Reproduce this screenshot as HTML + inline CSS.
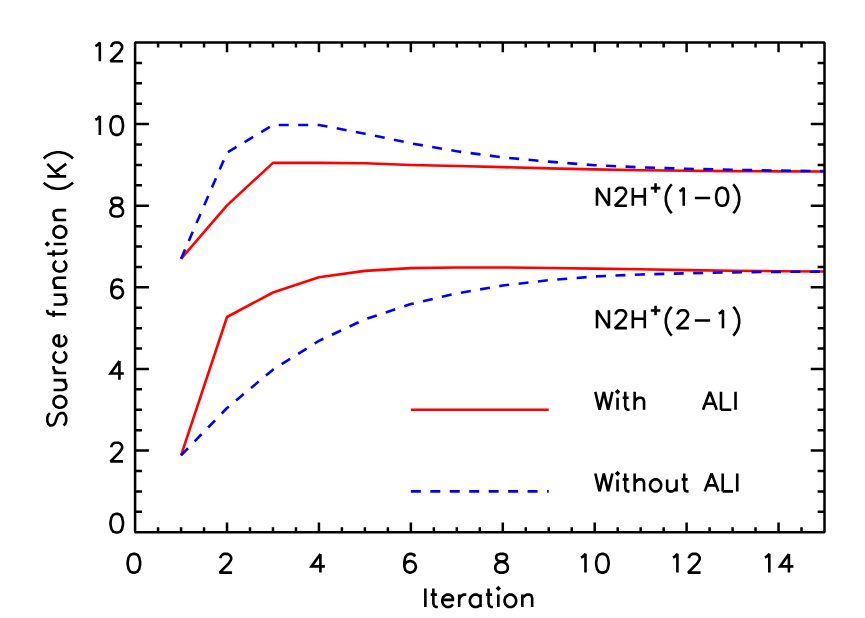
<!DOCTYPE html>
<html><head><meta charset="utf-8"><title>Source function vs Iteration</title>
<style>html,body{margin:0;padding:0;background:#fff;font-family:"Liberation Sans",sans-serif;}svg{display:block}</style>
</head><body><svg width="865" height="618" viewBox="0 0 865 618"><rect x="0" y="0" width="865" height="618" fill="#fff"/><g fill="none" stroke-linejoin="round" stroke-width="2.60"><polyline stroke="#ff0000" points="181.06,258.78 227.02,205.33 272.98,162.88 318.94,162.88 364.90,163.29 410.86,164.93 456.82,165.95 502.78,167.17 548.74,168.35 594.70,169.41 640.66,170.31 686.62,170.72 732.58,171.13 778.54,171.33 824.50,171.54"/><polyline stroke="#ff0000" points="181.06,455.40 227.02,317.02 272.98,292.49 318.94,277.27 364.90,270.90 410.86,268.13 456.82,267.56 502.78,267.44 548.74,267.97 594.70,268.58 640.66,269.27 686.62,270.13 732.58,270.74 778.54,271.19 824.50,271.56"/><polyline stroke="#ff0000" points="410.86,409.78 548.74,409.78"/><polyline stroke="#0000ff" stroke-dasharray="10 9.45" points="181.06,258.78 227.02,152.68 272.98,124.93 318.94,124.93 364.90,133.71 410.86,143.30 456.82,151.25 502.78,157.38 548.74,161.66 594.70,165.21 640.66,167.37 686.62,168.80 732.58,169.82 778.54,170.64 824.50,171.21"/><polyline stroke="#0000ff" stroke-dasharray="10 9.45" points="181.06,455.40 227.02,408.02 272.98,369.66 318.94,340.81 364.90,319.38 410.86,304.08 456.82,293.39 502.78,285.51 548.74,280.21 594.70,276.45 640.66,274.50 686.62,273.27 732.58,272.33 778.54,271.88 824.50,271.60"/><polyline stroke="#0000ff" stroke-dasharray="10 9.45" points="410.86,491.39 548.74,491.39"/></g><path d="M135.10 42.50 H824.50 V532.20 H135.10 ZM158.08 532.20 v-4.90M158.08 42.50 v4.90M181.06 532.20 v-4.90M181.06 42.50 v4.90M204.04 532.20 v-4.90M204.04 42.50 v4.90M227.02 532.20 v-9.79M227.02 42.50 v9.79M250.00 532.20 v-4.90M250.00 42.50 v4.90M272.98 532.20 v-4.90M272.98 42.50 v4.90M295.96 532.20 v-4.90M295.96 42.50 v4.90M318.94 532.20 v-9.79M318.94 42.50 v9.79M341.92 532.20 v-4.90M341.92 42.50 v4.90M364.90 532.20 v-4.90M364.90 42.50 v4.90M387.88 532.20 v-4.90M387.88 42.50 v4.90M410.86 532.20 v-9.79M410.86 42.50 v9.79M433.84 532.20 v-4.90M433.84 42.50 v4.90M456.82 532.20 v-4.90M456.82 42.50 v4.90M479.80 532.20 v-4.90M479.80 42.50 v4.90M502.78 532.20 v-9.79M502.78 42.50 v9.79M525.76 532.20 v-4.90M525.76 42.50 v4.90M548.74 532.20 v-4.90M548.74 42.50 v4.90M571.72 532.20 v-4.90M571.72 42.50 v4.90M594.70 532.20 v-9.79M594.70 42.50 v9.79M617.68 532.20 v-4.90M617.68 42.50 v4.90M640.66 532.20 v-4.90M640.66 42.50 v4.90M663.64 532.20 v-4.90M663.64 42.50 v4.90M686.62 532.20 v-9.79M686.62 42.50 v9.79M709.60 532.20 v-4.90M709.60 42.50 v4.90M732.58 532.20 v-4.90M732.58 42.50 v4.90M755.56 532.20 v-4.90M755.56 42.50 v4.90M778.54 532.20 v-9.79M778.54 42.50 v9.79M801.52 532.20 v-4.90M801.52 42.50 v4.90M135.10 511.80 h6.89M824.50 511.80 h-6.89M135.10 491.39 h6.89M824.50 491.39 h-6.89M135.10 470.99 h6.89M824.50 470.99 h-6.89M135.10 450.58 h13.79M824.50 450.58 h-13.79M135.10 430.18 h6.89M824.50 430.18 h-6.89M135.10 409.78 h6.89M824.50 409.78 h-6.89M135.10 389.37 h6.89M824.50 389.37 h-6.89M135.10 368.97 h13.79M824.50 368.97 h-13.79M135.10 348.56 h6.89M824.50 348.56 h-6.89M135.10 328.16 h6.89M824.50 328.16 h-6.89M135.10 307.75 h6.89M824.50 307.75 h-6.89M135.10 287.35 h13.79M824.50 287.35 h-13.79M135.10 266.95 h6.89M824.50 266.95 h-6.89M135.10 246.54 h6.89M824.50 246.54 h-6.89M135.10 226.14 h6.89M824.50 226.14 h-6.89M135.10 205.73 h13.79M824.50 205.73 h-13.79M135.10 185.33 h6.89M824.50 185.33 h-6.89M135.10 164.93 h6.89M824.50 164.93 h-6.89M135.10 144.52 h6.89M824.50 144.52 h-6.89M135.10 124.12 h13.79M824.50 124.12 h-13.79M135.10 103.71 h6.89M824.50 103.71 h-6.89M135.10 83.31 h6.89M824.50 83.31 h-6.89M135.10 62.90 h6.89M824.50 62.90 h-6.89" fill="none" stroke="#000" stroke-width="2.50" stroke-linejoin="bevel"/><path transform="translate(125.00 572.60)" d="M8.01 -18.69 L5.34 -17.80 L3.56 -15.13 L2.67 -10.68 L2.67 -8.01 L3.56 -3.56 L5.34 -0.89 L8.01 -0.00 L9.79 -0.00 L12.46 -0.89 L14.24 -3.56 L15.13 -8.01 L15.13 -10.68 L14.24 -15.13 L12.46 -17.80 L9.79 -18.69Z" fill="none" stroke="#000" stroke-width="2.60" stroke-linejoin="miter" stroke-miterlimit="2.5" stroke-linecap="butt"/><path transform="translate(216.92 572.60)" d="M3.56 -14.24 L3.56 -15.13 L4.45 -16.91 L5.34 -17.80 L7.12 -18.69 L10.68 -18.69 L12.46 -17.80 L13.35 -16.91 L14.24 -15.13 L14.24 -13.35 L13.35 -11.57 L11.57 -8.90 L2.67 -0.00 L15.13 -0.00" fill="none" stroke="#000" stroke-width="2.60" stroke-linejoin="miter" stroke-miterlimit="2.5" stroke-linecap="butt"/><path transform="translate(308.84 572.60)" d="M11.57 -18.69 L2.67 -6.23 L16.02 -6.23M11.57 -18.69 L11.57 -0.00" fill="none" stroke="#000" stroke-width="2.60" stroke-linejoin="miter" stroke-miterlimit="2.5" stroke-linecap="butt"/><path transform="translate(400.76 572.60)" d="M14.24 -16.02 L13.35 -17.80 L10.68 -18.69 L8.90 -18.69 L6.23 -17.80 L4.45 -15.13 L3.56 -10.68 L3.56 -6.23 L4.45 -2.67 L6.23 -0.89 L8.90 -0.00 L9.79 -0.00 L12.46 -0.89 L14.24 -2.67 L15.13 -5.34 L15.13 -6.23 L14.24 -8.90 L12.46 -10.68 L9.79 -11.57 L8.90 -11.57 L6.23 -10.68 L4.45 -8.90 L3.56 -6.23" fill="none" stroke="#000" stroke-width="2.60" stroke-linejoin="miter" stroke-miterlimit="2.5" stroke-linecap="butt"/><path transform="translate(492.68 572.60)" d="M7.12 -18.69 L4.45 -17.80 L3.56 -16.02 L3.56 -14.24 L4.45 -12.46 L6.23 -11.57 L9.79 -10.68 L12.46 -9.79 L14.24 -8.01 L15.13 -6.23 L15.13 -3.56 L14.24 -1.78 L13.35 -0.89 L10.68 -0.00 L7.12 -0.00 L4.45 -0.89 L3.56 -1.78 L2.67 -3.56 L2.67 -6.23 L3.56 -8.01 L5.34 -9.79 L8.01 -10.68 L11.57 -11.57 L13.35 -12.46 L14.24 -14.24 L14.24 -16.02 L13.35 -17.80 L10.68 -18.69Z" fill="none" stroke="#000" stroke-width="2.60" stroke-linejoin="miter" stroke-miterlimit="2.5" stroke-linecap="butt"/><path transform="translate(575.70 572.60)" d="M5.34 -15.13 L7.12 -16.02 L9.79 -18.69 L9.79 -0.00M25.81 -18.69 L23.14 -17.80 L21.36 -15.13 L20.47 -10.68 L20.47 -8.01 L21.36 -3.56 L23.14 -0.89 L25.81 -0.00 L27.59 -0.00 L30.26 -0.89 L32.04 -3.56 L32.93 -8.01 L32.93 -10.68 L32.04 -15.13 L30.26 -17.80 L27.59 -18.69Z" fill="none" stroke="#000" stroke-width="2.60" stroke-linejoin="miter" stroke-miterlimit="2.5" stroke-linecap="butt"/><path transform="translate(667.62 572.60)" d="M5.34 -15.13 L7.12 -16.02 L9.79 -18.69 L9.79 -0.00M21.36 -14.24 L21.36 -15.13 L22.25 -16.91 L23.14 -17.80 L24.92 -18.69 L28.48 -18.69 L30.26 -17.80 L31.15 -16.91 L32.04 -15.13 L32.04 -13.35 L31.15 -11.57 L29.37 -8.90 L20.47 -0.00 L32.93 -0.00" fill="none" stroke="#000" stroke-width="2.60" stroke-linejoin="miter" stroke-miterlimit="2.5" stroke-linecap="butt"/><path transform="translate(759.54 572.60)" d="M5.34 -15.13 L7.12 -16.02 L9.79 -18.69 L9.79 -0.00M29.37 -18.69 L20.47 -6.23 L33.82 -6.23M29.37 -18.69 L29.37 -0.00" fill="none" stroke="#000" stroke-width="2.60" stroke-linejoin="miter" stroke-miterlimit="2.5" stroke-linecap="butt"/><path transform="translate(107.85 532.55)" d="M8.01 -18.69 L5.34 -17.80 L3.56 -15.13 L2.67 -10.68 L2.67 -8.01 L3.56 -3.56 L5.34 -0.89 L8.01 -0.00 L9.79 -0.00 L12.46 -0.89 L14.24 -3.56 L15.13 -8.01 L15.13 -10.68 L14.24 -15.13 L12.46 -17.80 L9.79 -18.69Z" fill="none" stroke="#000" stroke-width="2.60" stroke-linejoin="miter" stroke-miterlimit="2.5" stroke-linecap="butt"/><path transform="translate(107.85 461.38)" d="M3.56 -14.24 L3.56 -15.13 L4.45 -16.91 L5.34 -17.80 L7.12 -18.69 L10.68 -18.69 L12.46 -17.80 L13.35 -16.91 L14.24 -15.13 L14.24 -13.35 L13.35 -11.57 L11.57 -8.90 L2.67 -0.00 L15.13 -0.00" fill="none" stroke="#000" stroke-width="2.60" stroke-linejoin="miter" stroke-miterlimit="2.5" stroke-linecap="butt"/><path transform="translate(107.85 379.76)" d="M11.57 -18.69 L2.67 -6.23 L16.02 -6.23M11.57 -18.69 L11.57 -0.00" fill="none" stroke="#000" stroke-width="2.60" stroke-linejoin="miter" stroke-miterlimit="2.5" stroke-linecap="butt"/><path transform="translate(107.85 298.15)" d="M14.24 -16.02 L13.35 -17.80 L10.68 -18.69 L8.90 -18.69 L6.23 -17.80 L4.45 -15.13 L3.56 -10.68 L3.56 -6.23 L4.45 -2.67 L6.23 -0.89 L8.90 -0.00 L9.79 -0.00 L12.46 -0.89 L14.24 -2.67 L15.13 -5.34 L15.13 -6.23 L14.24 -8.90 L12.46 -10.68 L9.79 -11.57 L8.90 -11.57 L6.23 -10.68 L4.45 -8.90 L3.56 -6.23" fill="none" stroke="#000" stroke-width="2.60" stroke-linejoin="miter" stroke-miterlimit="2.5" stroke-linecap="butt"/><path transform="translate(107.85 216.53)" d="M7.12 -18.69 L4.45 -17.80 L3.56 -16.02 L3.56 -14.24 L4.45 -12.46 L6.23 -11.57 L9.79 -10.68 L12.46 -9.79 L14.24 -8.01 L15.13 -6.23 L15.13 -3.56 L14.24 -1.78 L13.35 -0.89 L10.68 -0.00 L7.12 -0.00 L4.45 -0.89 L3.56 -1.78 L2.67 -3.56 L2.67 -6.23 L3.56 -8.01 L5.34 -9.79 L8.01 -10.68 L11.57 -11.57 L13.35 -12.46 L14.24 -14.24 L14.24 -16.02 L13.35 -17.80 L10.68 -18.69Z" fill="none" stroke="#000" stroke-width="2.60" stroke-linejoin="miter" stroke-miterlimit="2.5" stroke-linecap="butt"/><path transform="translate(90.05 134.91)" d="M5.34 -15.13 L7.12 -16.02 L9.79 -18.69 L9.79 -0.00M25.81 -18.69 L23.14 -17.80 L21.36 -15.13 L20.47 -10.68 L20.47 -8.01 L21.36 -3.56 L23.14 -0.89 L25.81 -0.00 L27.59 -0.00 L30.26 -0.89 L32.04 -3.56 L32.93 -8.01 L32.93 -10.68 L32.04 -15.13 L30.26 -17.80 L27.59 -18.69Z" fill="none" stroke="#000" stroke-width="2.60" stroke-linejoin="miter" stroke-miterlimit="2.5" stroke-linecap="butt"/><path transform="translate(90.05 61.24)" d="M5.34 -15.13 L7.12 -16.02 L9.79 -18.69 L9.79 -0.00M21.36 -14.24 L21.36 -15.13 L22.25 -16.91 L23.14 -17.80 L24.92 -18.69 L28.48 -18.69 L30.26 -17.80 L31.15 -16.91 L32.04 -15.13 L32.04 -13.35 L31.15 -11.57 L29.37 -8.90 L20.47 -0.00 L32.93 -0.00" fill="none" stroke="#000" stroke-width="2.60" stroke-linejoin="miter" stroke-miterlimit="2.5" stroke-linecap="butt"/><path transform="translate(421.80 607.00)" d="M3.56 -18.61 L3.56 -0.00M11.57 -18.61 L11.57 -3.54 L12.46 -0.89 L14.24 -0.00 L16.02 -0.00M8.90 -12.40 L15.13 -12.40M20.47 -7.09 L31.15 -7.09 L31.15 -8.86 L30.26 -10.63 L29.37 -11.52 L27.59 -12.40 L24.92 -12.40 L23.14 -11.52 L21.36 -9.75 L20.47 -7.09 L20.47 -5.32 L21.36 -2.66 L23.14 -0.89 L24.92 -0.00 L27.59 -0.00 L29.37 -0.89 L31.15 -2.66M37.38 -12.40 L37.38 -0.00M37.38 -7.09 L38.27 -9.75 L40.05 -11.52 L41.83 -12.40 L44.50 -12.40M58.74 -12.40 L58.74 -0.00M58.74 -9.75 L56.96 -11.52 L55.18 -12.40 L52.51 -12.40 L50.73 -11.52 L48.95 -9.75 L48.06 -7.09 L48.06 -5.32 L48.95 -2.66 L50.73 -0.89 L52.51 -0.00 L55.18 -0.00 L56.96 -0.89 L58.74 -2.66M66.75 -18.61 L66.75 -3.54 L67.64 -0.89 L69.42 -0.00 L71.20 -0.00M64.08 -12.40 L70.31 -12.40M75.65 -18.61 L76.54 -17.72 L77.43 -18.61 L76.54 -19.49ZM76.54 -12.40 L76.54 -0.00M87.22 -12.40 L85.44 -11.52 L83.66 -9.75 L82.77 -7.09 L82.77 -5.32 L83.66 -2.66 L85.44 -0.89 L87.22 -0.00 L89.89 -0.00 L91.67 -0.89 L93.45 -2.66 L94.34 -5.32 L94.34 -7.09 L93.45 -9.75 L91.67 -11.52 L89.89 -12.40ZM100.57 -12.40 L100.57 -0.00M100.57 -8.86 L103.24 -11.52 L105.02 -12.40 L107.69 -12.40 L109.47 -11.52 L110.36 -8.86 L110.36 -0.00" fill="none" stroke="#000" stroke-width="2.60" stroke-linejoin="miter" stroke-miterlimit="2.5" stroke-linecap="butt"/><path transform="translate(66.20 428.20) rotate(-90)" d="M15.13 -16.20 L13.35 -18.00 L10.68 -18.90 L7.12 -18.90 L4.45 -18.00 L2.67 -16.20 L2.67 -14.40 L3.56 -12.60 L4.45 -11.70 L6.23 -10.80 L11.57 -9.00 L13.35 -8.10 L14.24 -7.20 L15.13 -5.40 L15.13 -2.70 L13.35 -0.90 L10.68 -0.00 L7.12 -0.00 L4.45 -0.90 L2.67 -2.70M24.92 -12.60 L23.14 -11.70 L21.36 -9.90 L20.47 -7.20 L20.47 -5.40 L21.36 -2.70 L23.14 -0.90 L24.92 -0.00 L27.59 -0.00 L29.37 -0.90 L31.15 -2.70 L32.04 -5.40 L32.04 -7.20 L31.15 -9.90 L29.37 -11.70 L27.59 -12.60ZM38.27 -12.60 L38.27 -3.60 L39.16 -0.90 L40.94 -0.00 L43.61 -0.00 L45.39 -0.90 L48.06 -3.60M48.06 -12.60 L48.06 -0.00M55.18 -12.60 L55.18 -0.00M55.18 -7.20 L56.07 -9.90 L57.85 -11.70 L59.63 -12.60 L62.30 -12.60M76.54 -9.90 L74.76 -11.70 L72.98 -12.60 L70.31 -12.60 L68.53 -11.70 L66.75 -9.90 L65.86 -7.20 L65.86 -5.40 L66.75 -2.70 L68.53 -0.90 L70.31 -0.00 L72.98 -0.00 L74.76 -0.90 L76.54 -2.70M81.88 -7.20 L92.56 -7.20 L92.56 -9.00 L91.67 -10.80 L90.78 -11.70 L89.00 -12.60 L86.33 -12.60 L84.55 -11.70 L82.77 -9.90 L81.88 -7.20 L81.88 -5.40 L82.77 -2.70 L84.55 -0.90 L86.33 -0.00 L89.00 -0.00 L90.78 -0.90 L92.56 -2.70M118.37 -18.90 L116.59 -18.90 L114.81 -18.00 L113.92 -15.30 L113.92 -0.00M111.25 -12.60 L117.48 -12.60M123.71 -12.60 L123.71 -3.60 L124.60 -0.90 L126.38 -0.00 L129.05 -0.00 L130.83 -0.90 L133.50 -3.60M133.50 -12.60 L133.50 -0.00M140.62 -12.60 L140.62 -0.00M140.62 -9.00 L143.29 -11.70 L145.07 -12.60 L147.74 -12.60 L149.52 -11.70 L150.41 -9.00 L150.41 -0.00M167.32 -9.90 L165.54 -11.70 L163.76 -12.60 L161.09 -12.60 L159.31 -11.70 L157.53 -9.90 L156.64 -7.20 L156.64 -5.40 L157.53 -2.70 L159.31 -0.90 L161.09 -0.00 L163.76 -0.00 L165.54 -0.90 L167.32 -2.70M174.44 -18.90 L174.44 -3.60 L175.33 -0.90 L177.11 -0.00 L178.89 -0.00M171.77 -12.60 L178.00 -12.60M183.34 -18.90 L184.23 -18.00 L185.12 -18.90 L184.23 -19.80ZM184.23 -12.60 L184.23 -0.00M194.91 -12.60 L193.13 -11.70 L191.35 -9.90 L190.46 -7.20 L190.46 -5.40 L191.35 -2.70 L193.13 -0.90 L194.91 -0.00 L197.58 -0.00 L199.36 -0.90 L201.14 -2.70 L202.03 -5.40 L202.03 -7.20 L201.14 -9.90 L199.36 -11.70 L197.58 -12.60ZM208.26 -12.60 L208.26 -0.00M208.26 -9.00 L210.93 -11.70 L212.71 -12.60 L215.38 -12.60 L217.16 -11.70 L218.05 -9.00 L218.05 -0.00M245.64 -22.50 L243.86 -20.67 L242.08 -17.93 L240.30 -14.27 L239.41 -9.70 L239.41 -6.05 L240.30 -1.48 L242.08 2.18 L243.86 4.92 L245.64 6.75M251.87 -18.90 L251.87 -0.00M264.33 -18.90 L251.87 -6.30M256.32 -10.80 L264.33 -0.00M269.67 -22.50 L271.45 -20.67 L273.23 -17.93 L275.01 -14.27 L275.90 -9.70 L275.90 -6.05 L275.01 -1.48 L273.23 2.18 L271.45 4.92 L269.67 6.75" fill="none" stroke="#000" stroke-width="2.60" stroke-linejoin="miter" stroke-miterlimit="2.5" stroke-linecap="butt"/><path transform="translate(593.60 205.73)" d="M3.41 -17.91 L3.41 -0.00M3.41 -17.91 L15.35 -0.00M15.35 -17.91 L15.35 -0.00M22.18 -13.65 L22.18 -14.50 L23.03 -16.21 L23.88 -17.06 L25.59 -17.91 L29.00 -17.91 L30.71 -17.06 L31.56 -16.21 L32.41 -14.50 L32.41 -12.79 L31.56 -11.09 L29.86 -8.53 L21.32 -0.00 L33.27 -0.00M39.24 -17.91 L39.24 -0.00M51.18 -17.91 L51.18 -0.00M39.24 -9.38 L51.18 -9.38M61.94 -22.40 L61.94 -12.88M57.18 -17.64 L66.70 -17.64M78.19 -21.32 L76.49 -19.53 L74.78 -16.83 L73.08 -13.24 L72.22 -8.75 L72.22 -5.16 L73.08 -0.66 L74.78 2.93 L76.49 5.62 L78.19 7.42M85.87 -14.50 L87.58 -15.35 L90.14 -17.91 L90.14 -0.00M101.23 -7.68 L116.58 -7.68M127.67 -17.91 L125.11 -17.06 L123.40 -14.50 L122.55 -10.24 L122.55 -7.68 L123.40 -3.41 L125.11 -0.85 L127.67 -0.00 L129.37 -0.00 L131.93 -0.85 L133.64 -3.41 L134.49 -7.68 L134.49 -10.24 L133.64 -14.50 L131.93 -17.06 L129.37 -17.91ZM139.61 -21.32 L141.32 -19.53 L143.02 -16.83 L144.73 -13.24 L145.58 -8.75 L145.58 -5.16 L144.73 -0.66 L143.02 2.93 L141.32 5.62 L139.61 7.42" fill="none" stroke="#000" stroke-width="2.60" stroke-linejoin="miter" stroke-miterlimit="2.5" stroke-linecap="butt"/><path transform="translate(593.60 328.16)" d="M3.41 -17.91 L3.41 -0.00M3.41 -17.91 L15.35 -0.00M15.35 -17.91 L15.35 -0.00M22.18 -13.65 L22.18 -14.50 L23.03 -16.21 L23.88 -17.06 L25.59 -17.91 L29.00 -17.91 L30.71 -17.06 L31.56 -16.21 L32.41 -14.50 L32.41 -12.79 L31.56 -11.09 L29.86 -8.53 L21.32 -0.00 L33.27 -0.00M39.24 -17.91 L39.24 -0.00M51.18 -17.91 L51.18 -0.00M39.24 -9.38 L51.18 -9.38M61.94 -22.40 L61.94 -12.88M57.18 -17.64 L66.70 -17.64M78.19 -21.32 L76.49 -19.53 L74.78 -16.83 L73.08 -13.24 L72.22 -8.75 L72.22 -5.16 L73.08 -0.66 L74.78 2.93 L76.49 5.62 L78.19 7.42M84.17 -13.65 L84.17 -14.50 L85.02 -16.21 L85.87 -17.06 L87.58 -17.91 L90.99 -17.91 L92.70 -17.06 L93.55 -16.21 L94.40 -14.50 L94.40 -12.79 L93.55 -11.09 L91.84 -8.53 L83.31 -0.00 L95.25 -0.00M101.23 -7.68 L116.58 -7.68M125.11 -14.50 L126.82 -15.35 L129.37 -17.91 L129.37 -0.00M139.61 -21.32 L141.32 -19.53 L143.02 -16.83 L144.73 -13.24 L145.58 -8.75 L145.58 -5.16 L144.73 -0.66 L143.02 2.93 L141.32 5.62 L139.61 7.42" fill="none" stroke="#000" stroke-width="2.60" stroke-linejoin="miter" stroke-miterlimit="2.5" stroke-linecap="butt"/><path transform="translate(593.60 409.78)" d="M1.71 -17.95 L5.98 -0.00M10.26 -17.95 L5.98 -0.00M10.26 -17.95 L14.54 -0.00M18.81 -17.95 L14.54 -0.00M23.09 -17.95 L23.94 -17.10 L24.79 -17.95 L23.94 -18.81ZM23.94 -11.97 L23.94 -0.00M31.63 -17.95 L31.63 -3.42 L32.49 -0.85 L34.20 -0.00 L35.91 -0.00M29.07 -11.97 L35.05 -11.97M41.04 -17.95 L41.04 -0.00M41.04 -8.55 L43.60 -11.12 L45.31 -11.97 L47.88 -11.97 L49.59 -11.12 L50.45 -8.55 L50.45 -0.00M116.28 -17.95 L109.44 -0.00M116.28 -17.95 L123.12 -0.00M112.00 -5.98 L120.55 -5.98M127.39 -17.95 L127.39 -0.00M127.39 -0.00 L137.66 -0.00M141.93 -17.95 L141.93 -0.00" fill="none" stroke="#000" stroke-width="2.60" stroke-linejoin="miter" stroke-miterlimit="2.5" stroke-linecap="butt"/><path transform="translate(593.60 491.39)" d="M1.71 -17.95 L5.98 -0.00M10.26 -17.95 L5.98 -0.00M10.26 -17.95 L14.54 -0.00M18.81 -17.95 L14.54 -0.00M23.09 -17.95 L23.94 -17.10 L24.79 -17.95 L23.94 -18.81ZM23.94 -11.97 L23.94 -0.00M31.63 -17.95 L31.63 -3.42 L32.49 -0.85 L34.20 -0.00 L35.91 -0.00M29.07 -11.97 L35.05 -11.97M41.04 -17.95 L41.04 -0.00M41.04 -8.55 L43.60 -11.12 L45.31 -11.97 L47.88 -11.97 L49.59 -11.12 L50.45 -8.55 L50.45 -0.00M60.70 -11.97 L58.99 -11.12 L57.28 -9.40 L56.43 -6.84 L56.43 -5.13 L57.28 -2.56 L58.99 -0.85 L60.70 -0.00 L63.27 -0.00 L64.98 -0.85 L66.69 -2.56 L67.55 -5.13 L67.55 -6.84 L66.69 -9.40 L64.98 -11.12 L63.27 -11.97ZM73.53 -11.97 L73.53 -3.42 L74.39 -0.85 L76.09 -0.00 L78.66 -0.00 L80.37 -0.85 L82.94 -3.42M82.94 -11.97 L82.94 -0.00M90.63 -17.95 L90.63 -3.42 L91.48 -0.85 L93.19 -0.00 L94.91 -0.00M88.06 -11.97 L94.05 -11.97M117.99 -17.95 L111.15 -0.00M117.99 -17.95 L124.83 -0.00M113.72 -5.98 L122.27 -5.98M129.10 -17.95 L129.10 -0.00M129.10 -0.00 L139.37 -0.00M143.64 -17.95 L143.64 -0.00" fill="none" stroke="#000" stroke-width="2.60" stroke-linejoin="miter" stroke-miterlimit="2.5" stroke-linecap="butt"/></svg></body></html>
